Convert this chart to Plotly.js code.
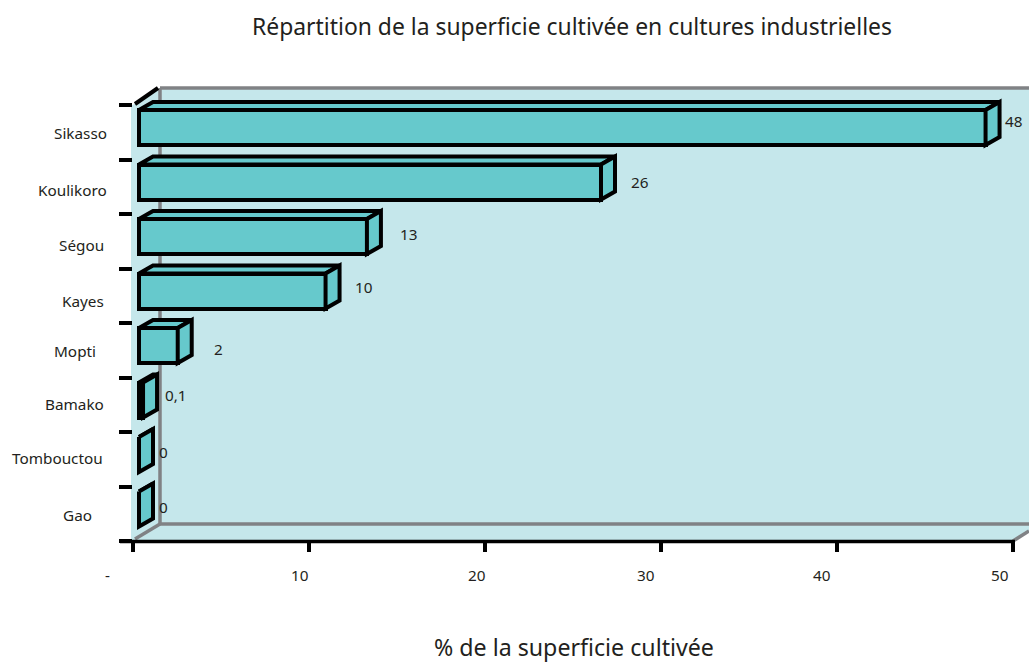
<!DOCTYPE html>
<html>
<head>
<meta charset="utf-8">
<script src="https://cdn.plot.ly/plotly-3.0.1.min.js"></script>
<style>html,body{margin:0;padding:0;background:#fff}#chart{width:1029px;height:662px}</style>
</head>
<body>
<div id="chart"></div>
<script>
// Data
const categories = ["Sikasso","Koulikoro","Ségou","Kayes","Mopti","Bamako","Tombouctou","Gao"];
const barLengths = [48.1,26.25,12.95,10.6,2.2,0.23,0,0];
const valueLabels = ["48","26","13","10","2","0,1","0","0"];
const xTickValues = [0,10,20,30,40,50];
const xTickLabels = ["-","10","20","30","40","50"];
const xAxisTitle = "% de la superficie cultivée";

// Layout (pixels on the page)
const plotL=133, plotR=1013, plotT=88, plotB=541;
const pxPerX=(plotR-plotL)/50, pxPerRow=54.5;
const FONT='"Noto Sans", sans-serif';
const TEAL='#66c9cc', WALL='#c5e7eb', GREY='#808285', BLACK='#000000';
const categoryLabelPos=[[80,133],[72,190],[81,245],[83,301],[75,351],[74,404],[57,458],[77,515]];
const valueLabelPos=[[1014,121],[640,182],[409,234],[364,287],[218,349],[176,395],[163,452],[163,507]];
const xLabelPos=[107,300,477,646,822,1000];

const paperX=p=>(p-plotL)/(plotR-plotL);
const paperY=p=>1-(p-plotT)/(plotB-plotT);
const rows=categories.map((_,i)=>i);
const barBase=6/pxPerX, depthX=14/pxPerX, depthY=8/pxPerRow;
const rowHalf=17.5/pxPerRow, rowShift=-4.75/pxPerRow;

function faces(kind){
  const xs=[],ys=[];
  barLengths.forEach((v,i)=>{
    const x0=barBase, x1=barBase+v, yT=i+rowShift-rowHalf, yB=i+rowShift+rowHalf;
    if(kind==='top'){
      xs.push(x0,x1,x1+depthX,x0+depthX,x0,null);
      ys.push(yT,yT,yT-depthY,yT-depthY,yT,null);
    }else{
      xs.push(x1,x1,x1+depthX,x1+depthX,x1,null);
      ys.push(yT,yB,yB-depthY,yT-depthY,yT,null);
    }
  });
  return {x:xs,y:ys,type:'scatter',mode:'lines',fill:'toself',fillcolor:TEAL,
    line:{color:BLACK,width:4,simplify:false},hoverinfo:'skip',showlegend:false,cliponaxis:false};
}

const bars={type:'bar',orientation:'h',y:rows,x:barLengths,base:barBase,
  width:rowHalf*2,offset:rowShift-rowHalf,
  marker:{color:TEAL,line:{color:BLACK,width:4}},showlegend:false,
  customdata:categories,hovertemplate:'%{customdata}: %{x}<extra></extra>'};

function poly(pts,fill){
  return {type:'path',xref:'paper',yref:'paper',layer:'below',
    path:'M'+pts.map(p=>paperX(p[0])+','+paperY(p[1])).join('L')+'Z',
    fillcolor:fill,line:{width:0}};
}
function seg(a,b,color,w){
  return {type:'line',xref:'paper',yref:'paper',layer:'below',
    x0:paperX(a[0]),y0:paperY(a[1]),x1:paperX(b[0]),y1:paperY(b[1]),line:{color:color,width:w}};
}
const shapes=[
  poly([[131,106],[160,88],[1029,88],[1029,531],[1013,541],[131,541]],WALL),
  seg([160,88],[1029,88],GREY,3.5),
  seg([160,88],[160,524],GREY,3.5),
  seg([160,524],[1029,524],GREY,3.5),
  seg([135,539],[160,524],GREY,3.5),
  seg([1013,541],[1029,531],GREY,3.5),
  seg([135,104],[158,88],BLACK,4),
  seg([120,541.5],[1015,541.5],BLACK,3.5)
];

function note(text,x,y,size){
  return {text:text,xref:'paper',yref:'paper',x:paperX(x),y:paperY(y),
    xanchor:'center',yanchor:'middle',showarrow:false,font:{family:FONT,size:size||15.3,color:'#231f20'}};
}
const annotations=[
  ...categories.map((c,i)=>note(c,categoryLabelPos[i][0],categoryLabelPos[i][1])),
  ...valueLabels.map((c,i)=>note(c,valueLabelPos[i][0],valueLabelPos[i][1])),
  ...xTickLabels.map((c,i)=>note(c,xLabelPos[i],575)),
  note(xAxisTitle,573.5,646.5,23.2)
];

const layout={
  width:1029,height:662,
  margin:{l:plotL,r:1029-plotR,t:plotT,b:662-plotB,pad:0},
  paper_bgcolor:'#ffffff',plot_bgcolor:'rgba(0,0,0,0)',
  font:{family:FONT,color:'#231f20'},
  showlegend:false,bargap:0,
  title:{text:'Répartition de la superficie cultivée en cultures industrielles',
    font:{family:FONT,size:22.9,color:'#231f20'},x:572/1029,xanchor:'center',y:1-27/662,yanchor:'middle'},
  xaxis:{range:[0,50],tickmode:'array',tickvals:xTickValues,ticktext:xTickLabels,showticklabels:false,
    ticks:'outside',ticklen:10,tickwidth:4,tickcolor:BLACK,showline:false,
    showgrid:false,zeroline:false},
  yaxis:{range:[7.5,7.5-(plotB-plotT)/pxPerRow],tickmode:'array',
    tickvals:[-0.5,0.5,1.5,2.5,3.5,4.5,5.5,6.5,7.5],showticklabels:false,
    ticks:'outside',ticklen:13,tickwidth:3.5,tickcolor:BLACK,showline:false,showgrid:false,zeroline:false},
  shapes:shapes,annotations:annotations
};
Plotly.newPlot('chart',[bars,faces('top'),faces('side')],layout,{displayModeBar:false,responsive:false});
</script>
</body>
</html>
